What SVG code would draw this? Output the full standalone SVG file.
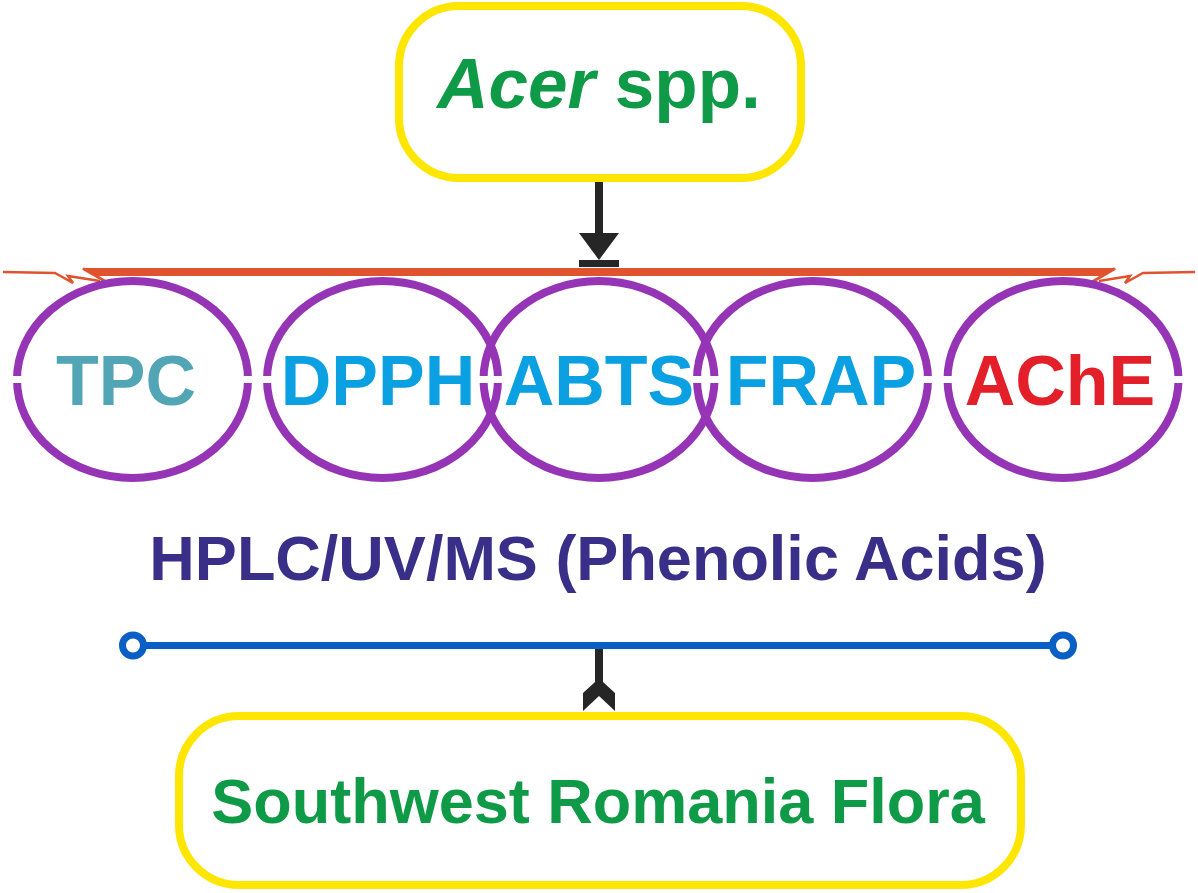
<svg xmlns="http://www.w3.org/2000/svg" width="1198" height="893" viewBox="0 0 1198 893">
<style>
.box{fill:#fff;stroke:#ffe600;stroke-width:8}
.ell{fill:none;stroke:#9634b6;stroke-width:8}
.t{font-family:"Liberation Sans",Arial,sans-serif;font-weight:bold;text-anchor:middle}
.lbl{font-size:70px}
.blue{fill:#0aa0e2}
.red{fill:#e3202a;stroke:none}
.rl{fill:none;stroke:#e0532f;stroke-width:2.5;stroke-linejoin:miter}
</style>
<rect width="1198" height="893" fill="#fff"/>
<g id="connectors">
  <rect x="595" y="182" width="8" height="53" fill="#262626"/>
  <polygon points="579,233 619,233 599,260" fill="#262626"/>
  <rect x="579" y="260" width="40" height="7" fill="#262626"/>
  <polygon points="82,268 1116,268 1102,276 97,276" fill="#e0532f"/>
  <line x1="83" y1="268.5" x2="110" y2="284" stroke="#e0532f" stroke-width="3"/>
  <line x1="1115" y1="268.5" x2="1092" y2="282" stroke="#e0532f" stroke-width="3"/>
  <polyline class="rl" points="3,272 55,273 73,283 68,276 100,281"/>
  <polyline class="rl" points="1195,272 1143,273 1125,283 1130,276 1099,281"/>
  <line x1="133" y1="645.5" x2="1063" y2="645.5" stroke="#0a5fc4" stroke-width="7"/>
  <circle cx="133" cy="645.5" r="10.5" fill="#fff" stroke="#0a5fc4" stroke-width="7"/>
  <circle cx="1063" cy="645.5" r="10.5" fill="#fff" stroke="#0a5fc4" stroke-width="7"/>
  <rect x="595" y="649" width="8" height="36" fill="#262626"/>
  <polygon points="595,682 603,682 615,693 615,711 599,696 583,711 583,693" fill="#262626"/>
</g>
<g id="node-acer">
  <rect class="box" x="399" y="6" width="402" height="172" rx="60"/>
  <text class="t" x="599" y="108" font-size="71" fill="#0f9a48"><tspan font-style="italic">Acer</tspan> spp.</text>
</g>
<g id="ellipses">
  <ellipse class="ell" cx="132.5" cy="379.5" rx="115.5" ry="98.5"/>
  <ellipse class="ell" cx="382.5" cy="379.5" rx="115.5" ry="98.5"/>
  <ellipse class="ell" cx="599" cy="379.5" rx="115.5" ry="98.5"/>
  <ellipse class="ell" cx="812.5" cy="379.5" rx="115.5" ry="98.5"/>
  <ellipse class="ell" cx="1063" cy="379.5" rx="115.5" ry="98.5"/>
  <line x1="0" y1="379.5" x2="1198" y2="379.5" stroke="#fff" stroke-width="7"/>
</g>
<g id="node-tpc"><text class="t lbl" x="126" y="405" fill="#52a5b5">TPC</text></g>
<g id="node-dpph"><text class="t lbl blue" x="378" y="405">DPPH</text></g>
<g id="node-abts"><text class="t lbl blue" x="599" y="405">ABTS</text></g>
<g id="node-frap"><text class="t lbl blue" x="821" y="405">FRAP</text></g>
<g id="node-ache"><text class="t lbl" x="1060" y="405" fill="#e3202a">AChE</text></g>
<g id="node-hplc"><text class="t" x="598" y="580" font-size="63" fill="#3a2f88">HPLC/UV/MS (Phenolic Acids)</text></g>
<g id="node-flora">
  <rect class="box" x="179" y="716" width="842" height="169" rx="60"/>
  <text class="t" x="598" y="823" font-size="63" fill="#0f9a48">Southwest Romania Flora</text>
</g>
</svg>
